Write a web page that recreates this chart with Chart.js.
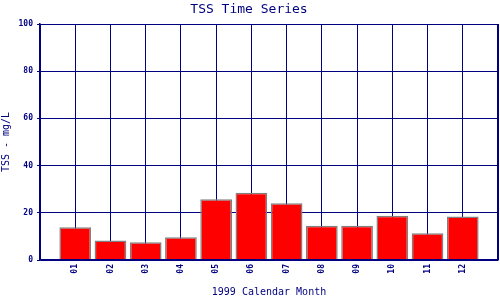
<!DOCTYPE html>
<html>
<head>
<meta charset="utf-8">
<script src="https://cdn.jsdelivr.net/npm/chart.js@4"></script>
<style>
  html, body { margin: 0; padding: 0; background: #fff; }
  #wrap { width: 500px; height: 300px; }
</style>
</head>
<body>
<div id="wrap"><canvas id="chart"></canvas></div>
<script>
// month labels and TSS values
const months = ["01", "02", "03", "04", "05", "06", "07", "08", "09", "10", "11", "12"];
const tss = [13.9, 8.3, 7.5, 9.6, 25.7, 28.5, 24.0, 14.5, 14.5, 18.8, 11.3, 18.4];
const yTicks = [0, 20, 40, 60, 80, 100];

const navy = "#000080";
const mono = "'DejaVu Sans Mono', 'Liberation Mono', monospace";

const points = months.map((m, i) => ({ x: i + 1, y: tss[i] }));

new Chart(document.getElementById("chart").getContext("2d"), {
  type: "bar",
  data: {
    datasets: [
      {
        label: "TSS",
        data: points,
        backgroundColor: "#ff0000",
        borderColor: "#808080",
        borderWidth: 1.5,
        barPercentage: 0.9,
        categoryPercentage: 1,
      },
    ],
  },
  options: {
    responsive: true,
    maintainAspectRatio: false,
    animation: false,
    layout: { padding: { left: 0, right: 2, top: 0, bottom: 0 } },
    plugins: {
      legend: { display: false },
      tooltip: { enabled: false },
      title: {
        display: true,
        text: "TSS Time Series",
        color: navy,
        font: { family: mono, size: 13, weight: "normal", lineHeight: 1 },
        padding: { top: 3, bottom: 8 },
      },
    },
    scales: {
      x: {
        type: "linear",
        min: 0,
        max: 13,
        offset: false,
        afterBuildTicks: (s) => {
          s.ticks = [];
          for (let i = 0; i <= 13; i++) s.ticks.push({ value: i });
        },
        afterFit: (s) => {
          s.height = 40;
          s.paddingLeft = 0;
          s.paddingRight = 0;
        },
        ticks: {
          color: navy,
          font: { family: mono, size: 8, weight: "bold" },
          minRotation: 90,
          maxRotation: 90,
          padding: 4,
          autoSkip: false,
          callback: (v) => (v >= 1 && v <= 12 ? months[v - 1] : ""),
        },
        grid: { color: navy, lineWidth: 1, drawTicks: false, offset: false },
        border: { color: navy, width: 1.5 },
        title: {
          display: true,
          text: "1999 Calendar Month",
          color: navy,
          font: { family: mono, size: 10 },
          padding: { top: 8, bottom: 2 },
        },
      },
      y: {
        min: 0,
        max: 100,
        afterBuildTicks: (s) => { s.ticks = yTicks.map((v) => ({ value: v })); },
        afterFit: (s) => {
          s.width = 40;
          s.paddingTop = 0;
          s.paddingBottom = 0;
        },
        ticks: {
          color: navy,
          font: { family: mono, size: 8, weight: "bold" },
          padding: 4,
        },
        grid: { color: navy, lineWidth: 1, drawTicks: true, tickLength: 3 },
        border: { color: navy, width: 1.5 },
        title: {
          display: true,
          text: "TSS - mg/L",
          color: navy,
          font: { family: mono, size: 10 },
          padding: { top: 0, bottom: 0 },
        },
      },
    },
  },
  plugins: [
    {
      id: "frame",
      afterDraw(chart) {
        const { ctx, chartArea: a } = chart;
        ctx.save();
        ctx.strokeStyle = navy;
        ctx.lineWidth = 1;
        ctx.strokeRect(a.left + 0.5, a.top + 0.5, a.right - a.left - 1, a.bottom - a.top - 1);
        ctx.restore();
      },
    },
  ],
});
</script>
</body>
</html>
